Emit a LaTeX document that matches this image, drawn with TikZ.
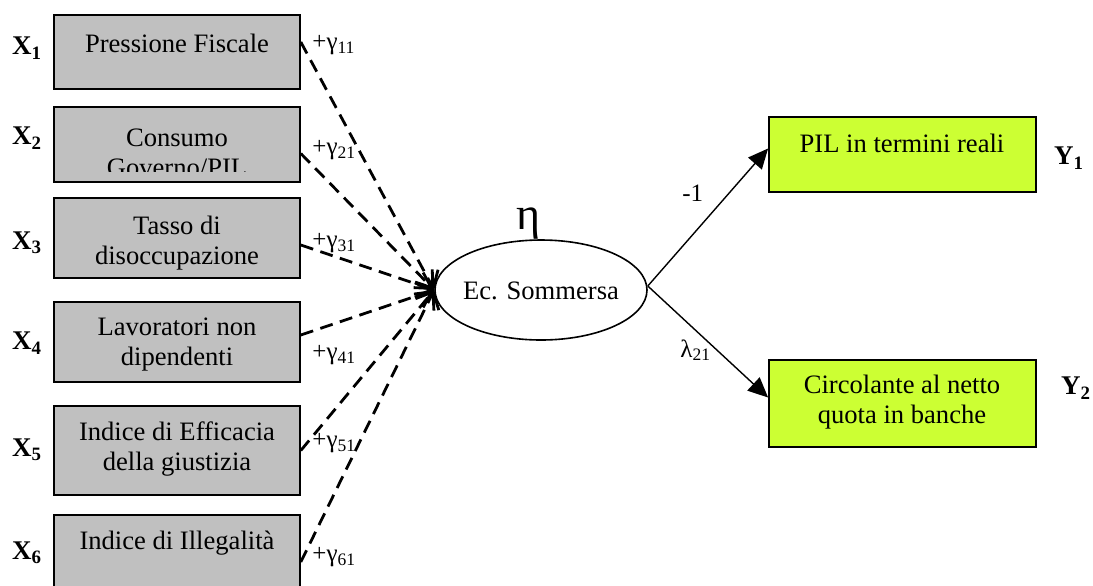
\documentclass[tikz,border=0pt]{standalone}
\usepackage{fontspec}
\setmainfont{Liberation Serif}
\usetikzlibrary{arrows.meta, shapes.geometric, positioning}

\definecolor{boxgrey}{HTML}{C0C0C0}
\definecolor{limegreen}{HTML}{CCFF33}

\tikzset{
  xbox/.style={draw, fill=boxgrey, line width=0.8pt, minimum width=123pt, inner sep=0pt},
  ybox/.style={draw, fill=limegreen, line width=0.9pt, minimum width=133.5pt, inner sep=0pt},
  boxtext/.style={align=center, font=\fontsize{13.3}{15}\selectfont, inner sep=0pt},
  varlab/.style={font=\fontsize{13.5}{15}\selectfont\bfseries, inner sep=0pt},
  coef/.style={font=\fontsize{12.5}{14}\selectfont, inner sep=0pt, anchor=west},
  cause/.style={line width=1.4pt, dash pattern=on 6.5pt off 3.8pt,
    -{Straight Barb[length=7pt,width=13pt,line width=1.4pt]}},
  load/.style={line width=0.7pt, -{Triangle[length=10pt,width=9pt]}},
}

\begin{document}
\begin{tikzpicture}[x=0.5pt,y=-0.5pt]

\useasboundingbox (0,0) rectangle (1093,585);
\clip (0,0) rectangle (1093,585);

% Exogenous causes
        \node[xbox, minimum height=37pt] (b1) at (177,52) {};
        \node[xbox, minimum height=37.5pt] (b2) at (177,144.5) {};
        \node[xbox, minimum height=40pt] (b3) at (177,238) {};
        \node[xbox, minimum height=40pt] (b4) at (177,342) {};
        \node[xbox, minimum height=44.5pt] (b5) at (177,450.5) {};
        \node[xbox, minimum height=45pt] (b6) at (177,560) {};

        \node[boxtext] (t1) at (177,43) {Pressione Fiscale};
        \begin{scope}
          \clip (56,108) rectangle (298,171);
          \node[boxtext] (t2) at (177,153) {Consumo\\Governo/PIL};
        \end{scope}
        \node[boxtext] (t3) at (177,243) {Tasso di\\disoccupazione};
        \node[boxtext] (t4) at (177,345) {Lavoratori non\\dipendenti};
        \node[boxtext] (t5) at (177,449) {Indice di Efficacia\\della giustizia};
        \node[boxtext] (t6) at (177,543) {Indice di Illegalità};

        \foreach \i/\y in {1/48,2/138,3/243,4/343,5/450,6/553} {
          \node[varlab] (x\i) at (27,\y) {X\textsubscript{\i}};
        }

% Latent variable
        \node[draw, ellipse, line width=0.8pt, minimum width=106pt, minimum height=50pt,
          inner sep=0pt] (ec) at (541,290) {};
        \node[boxtext] (ect) at (541,291) {Ec. Sommersa};
        \node[font=\fontsize{23}{24}\selectfont, inner sep=0pt] (eta) at (529,224) {η};

% Indicators
        \node[ybox, minimum height=37.5pt] (p1) at (902.5,154.5) {};
        \node[ybox, minimum height=43.5pt] (p2) at (902.5,403.5) {};
        \node[boxtext] (q1) at (902,143) {PIL in termini reali};
        \node[boxtext] (q2) at (902,402) {Circolante al netto\\quota in banche};
        \node[varlab] (y1) at (1069,158) {Y\textsubscript{1}};
        \node[varlab] (y2) at (1076,388) {Y\textsubscript{2}};

% Dashed paths into the latent variable
        \draw[cause] ([yshift=5pt]b1.east) -- (ec.west);
        \draw[cause] ([yshift=-4.5pt]b2.east) -- (ec.west);
        \draw[cause] ([yshift=-3.5pt]b3.east) -- (ec.west);
        \draw[cause] ([yshift=3.5pt]b4.east) -- (ec.west);
        \draw[cause] (b5.east) -- (ec.west);
        \draw[cause] ([yshift=-1pt]b6.east) -- (ec.west);

        \foreach \i/\y in {1/45,2/150,3/243,4/355,5/443,6/557} {
          \node[coef] (g\i) at (312,\y) {+γ\textsubscript{\i1}};
        }

% Loadings
        \draw[load] ([yshift=2pt]ec.east) -- ([yshift=3pt]p1.west);
        \draw[load] ([yshift=2pt]ec.east) -- ([yshift=3pt]p2.west);
        \node[coef] (l1) at (682,193) {-1};
        \node[coef] (l2) at (680,350) {λ\textsubscript{21}};

\end{tikzpicture}
\end{document}
